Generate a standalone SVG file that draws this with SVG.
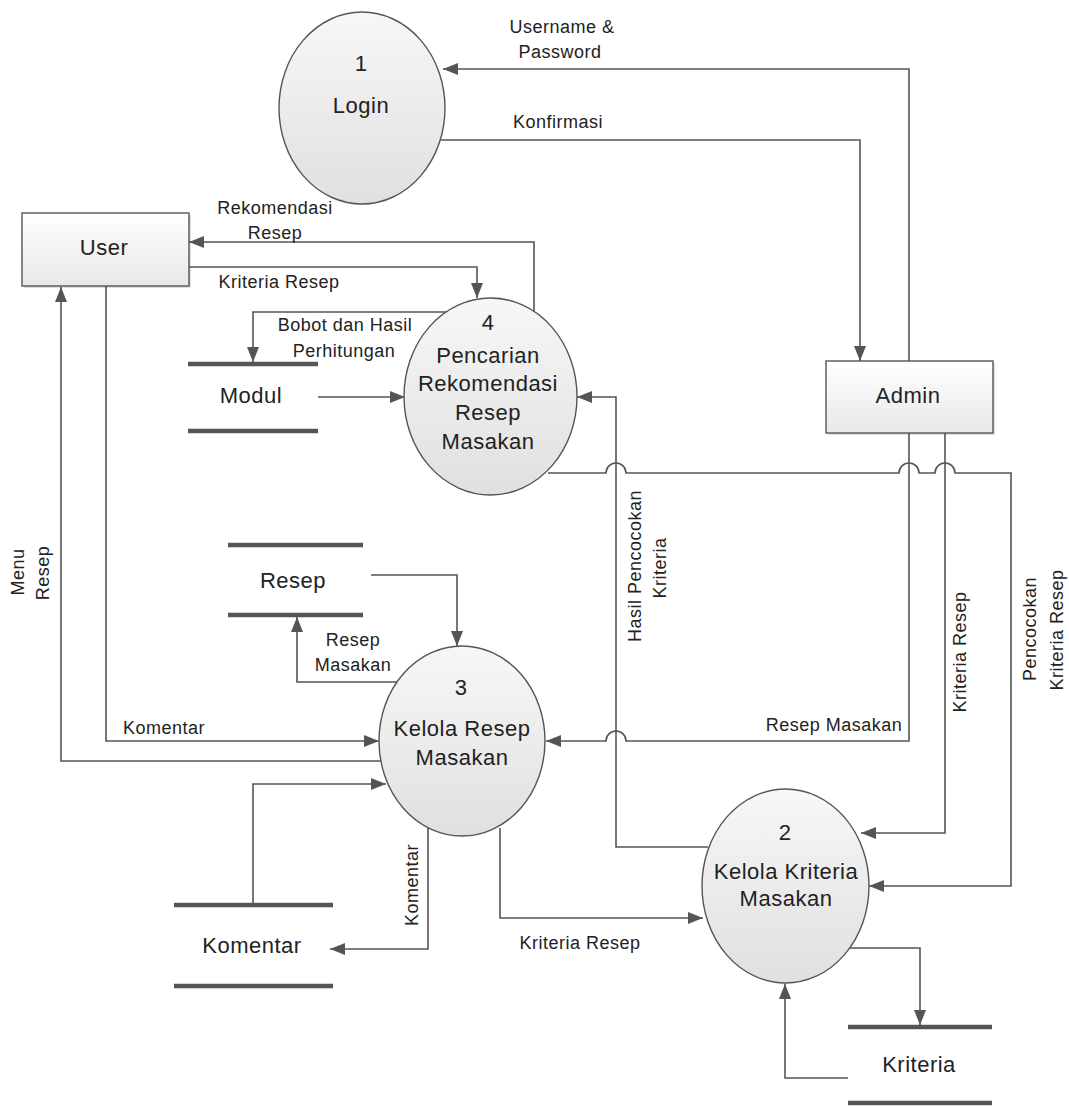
<svg xmlns="http://www.w3.org/2000/svg" width="1069" height="1108" viewBox="0 0 1069 1108">
<style>
.node{font-family:"Liberation Sans",Arial,sans-serif;font-size:22px;letter-spacing:0.5px;fill:#222;text-anchor:middle;dominant-baseline:central}
.lbl{font-family:"Liberation Sans",Arial,sans-serif;font-size:18px;letter-spacing:0.5px;fill:#222;text-anchor:middle;dominant-baseline:central}
.proc{fill:url(#gE);stroke:#555;stroke-width:1.4}
.ent{fill:url(#gR);stroke:#555;stroke-width:1.4}
.shadow{fill:#000;opacity:0.12}
.store{stroke:#555;stroke-width:4.5;fill:none}
.flow{fill:none;stroke:#555;stroke-width:1.6;marker-end:url(#arr)}
</style>
<defs>
<linearGradient id="gE" x1="0" y1="0" x2="0" y2="1">
<stop offset="0" stop-color="#f7f7f7"/>
<stop offset="1" stop-color="#e0e0e0"/>
</linearGradient>
<linearGradient id="gR" x1="0" y1="0" x2="0" y2="1">
<stop offset="0" stop-color="#ffffff"/>
<stop offset="1" stop-color="#e8e8e8"/>
</linearGradient>
<marker id="arr" markerUnits="userSpaceOnUse" markerWidth="15" markerHeight="12" refX="15" refY="6" orient="auto">
<path d="M0,0 L15,6 L0,12 z" fill="#555"/>
</marker>
</defs>
<rect width="1069" height="1108" fill="#ffffff"/>

<g id="connectors">
<path class="flow" d="M909,361 V69 H443"/>
<path class="flow" d="M441,140 H860 V361"/>
<path class="flow" d="M534,312 V242 H189"/>
<path class="flow" d="M189,267 H477 V298"/>
<path class="flow" d="M447,312 H253 V362"/>
<path class="flow" d="M318,397 H405"/>
<path class="flow" d="M708,847 H616 V397 H577"/>
<path class="flow" d="M548,473 H606 A10,10 0 0 1 626,473 H899 A10,10 0 0 1 919,473 H935 A10,10 0 0 1 955,473 H1011 V886 H869"/>
<path class="flow" d="M909,433 V741 H626 A10,10 0 0 0 606,741 H546"/>
<path class="flow" d="M945,433 V833 H861"/>
<path class="flow" d="M371,575 H457 V646"/>
<path class="flow" d="M398,682 H297 V617"/>
<path class="flow" d="M106,286 V741 H379"/>
<path class="flow" d="M381,761 H61 V287"/>
<path class="flow" d="M253,905 V784 H386"/>
<path class="flow" d="M428,828 V949 H330"/>
<path class="flow" d="M500,828 V918 H703"/>
<path class="flow" d="M850,948 H920 V1025"/>
<path class="flow" d="M848,1078 H785 V984"/>
<text class="lbl" x="562" y="27">Username &amp;</text>
<text class="lbl" x="560" y="52">Password</text>
<text class="lbl" x="558" y="122">Konfirmasi</text>
<text class="lbl" x="275" y="208">Rekomendasi</text>
<text class="lbl" x="275" y="233">Resep</text>
<text class="lbl" x="279" y="282">Kriteria Resep</text>
<text class="lbl" x="345" y="325">Bobot dan Hasil</text>
<text class="lbl" x="344" y="351">Perhitungan</text>
<text class="lbl" transform="translate(18,572) rotate(-90)">Menu</text>
<text class="lbl" transform="translate(43,573) rotate(-90)">Resep</text>
<text class="lbl" x="353" y="640">Resep</text>
<text class="lbl" x="353" y="665">Masakan</text>
<text class="lbl" transform="translate(635,566) rotate(-90)">Hasil Pencocokan</text>
<text class="lbl" transform="translate(660,568) rotate(-90)">Kriteria</text>
<text class="lbl" transform="translate(960,652) rotate(-90)">Kriteria Resep</text>
<text class="lbl" transform="translate(1030,629) rotate(-90)">Pencocokan</text>
<text class="lbl" transform="translate(1057,630) rotate(-90)">Kriteria Resep</text>
<text class="lbl" x="164" y="728">Komentar</text>
<text class="lbl" x="834" y="725">Resep Masakan</text>
<text class="lbl" transform="translate(412,885) rotate(-90)">Komentar</text>
<text class="lbl" x="580" y="943">Kriteria Resep</text>
</g>

<g id="login">
<ellipse class="proc" cx="362" cy="108" rx="83" ry="96"/>
<text class="node" x="361" y="63">1</text>
<text class="node" x="361" y="105">Login</text>
</g>

<g id="user">
<rect class="shadow" x="24" y="215" width="167" height="73"/>
<rect class="ent" x="22" y="213" width="167" height="73"/>
<text class="node" x="104" y="247">User</text>
</g>

<g id="admin">
<rect class="shadow" x="828" y="363" width="167" height="72"/>
<rect class="ent" x="826" y="361" width="167" height="72"/>
<text class="node" x="908" y="395">Admin</text>
</g>

<g id="pencarian">
<ellipse class="proc" cx="490.5" cy="396.5" rx="86.5" ry="98.5"/>
<text class="node" x="488" y="322">4</text>
<text class="node" x="488" y="355">Pencarian</text>
<text class="node" x="488" y="383">Rekomendasi</text>
<text class="node" x="488" y="412">Resep</text>
<text class="node" x="488" y="441">Masakan</text>
</g>

<g id="kelola-resep">
<ellipse class="proc" cx="462" cy="741" rx="83" ry="95"/>
<text class="node" x="461" y="687">3</text>
<text class="node" x="462" y="728">Kelola Resep</text>
<text class="node" x="462" y="757">Masakan</text>
</g>

<g id="kelola-kriteria">
<ellipse class="proc" cx="785.5" cy="886" rx="83.5" ry="97"/>
<text class="node" x="785" y="832">2</text>
<text class="node" x="786" y="871">Kelola Kriteria</text>
<text class="node" x="786" y="898">Masakan</text>
</g>

<g id="store-modul">
<line class="store" x1="188" y1="364" x2="318" y2="364"/>
<line class="store" x1="188" y1="431" x2="318" y2="431"/>
<text class="node" x="251" y="395">Modul</text>
</g>

<g id="store-resep">
<line class="store" x1="228" y1="545" x2="363" y2="545"/>
<line class="store" x1="228" y1="615" x2="363" y2="615"/>
<text class="node" x="293" y="580">Resep</text>
</g>

<g id="store-komentar">
<line class="store" x1="174" y1="905" x2="333" y2="905"/>
<line class="store" x1="174" y1="986" x2="333" y2="986"/>
<text class="node" x="252" y="945">Komentar</text>
</g>

<g id="store-kriteria">
<line class="store" x1="848" y1="1027" x2="992" y2="1027"/>
<line class="store" x1="848" y1="1103" x2="992" y2="1103"/>
<text class="node" x="919" y="1064">Kriteria</text>
</g>
</svg>
